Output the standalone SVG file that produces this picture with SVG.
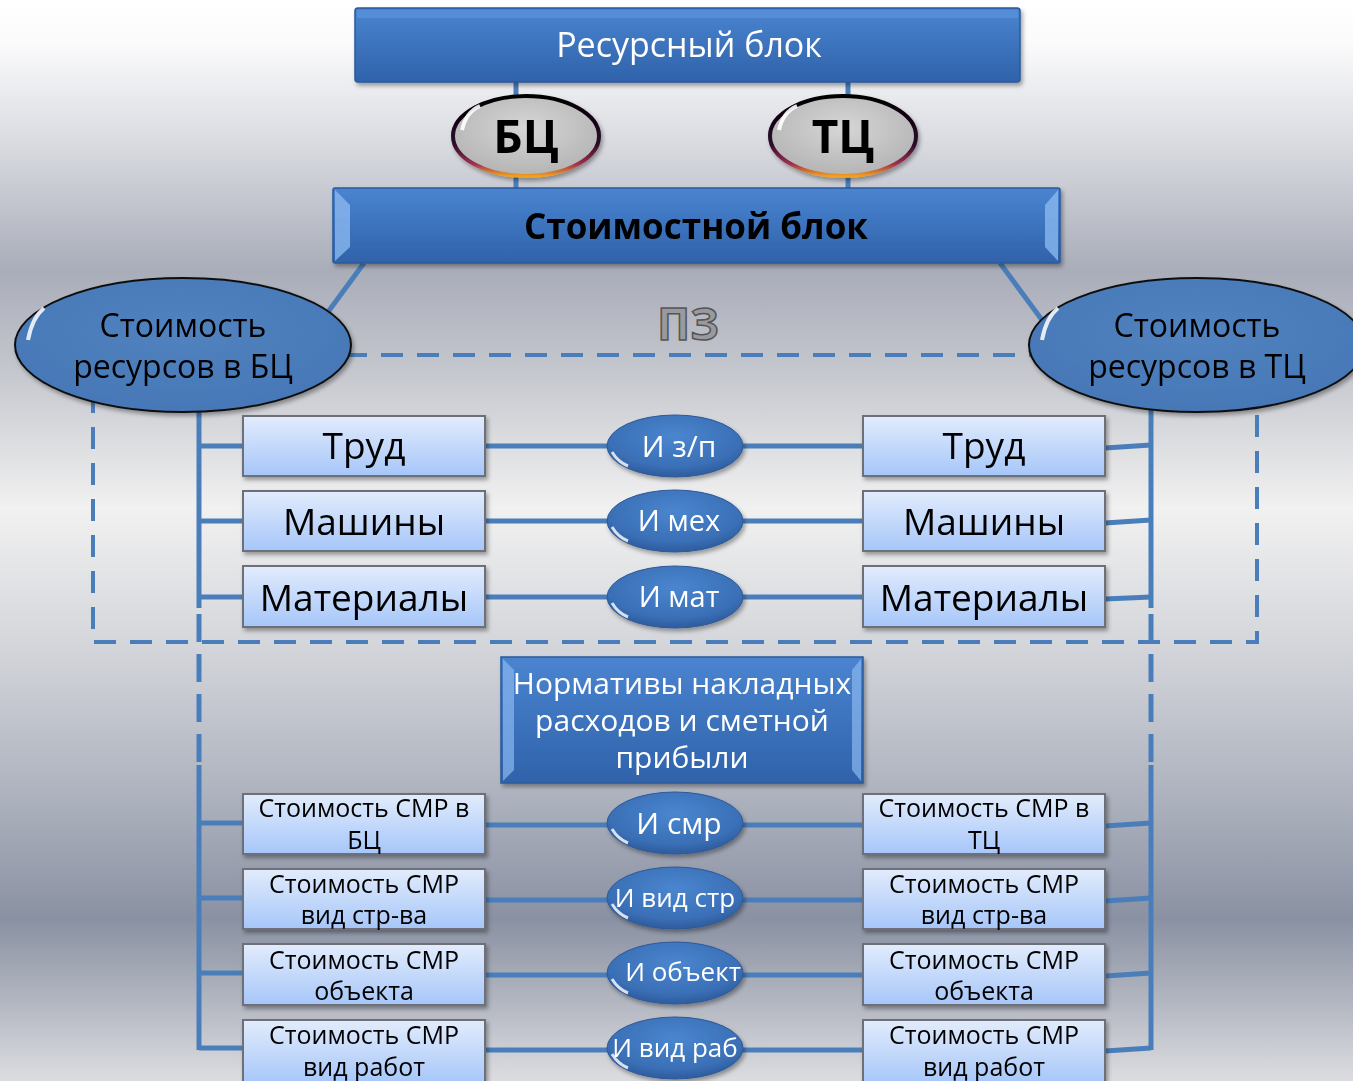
<svg xmlns="http://www.w3.org/2000/svg" width="1353" height="1081" viewBox="0 0 1353 1081">
<defs>
<linearGradient id="bg" x1="0" y1="0" x2="0" y2="1">
<stop offset="0" stop-color="#ffffff"/>
<stop offset="0.04" stop-color="#fbfbfc"/>
<stop offset="0.14" stop-color="#d6d8de"/>
<stop offset="0.25" stop-color="#a9adb9"/>
<stop offset="0.34" stop-color="#c4c6cd"/>
<stop offset="0.47" stop-color="#f1f1f1"/>
<stop offset="0.6" stop-color="#d3d5da"/>
<stop offset="0.74" stop-color="#acb1bd"/>
<stop offset="0.85" stop-color="#8a91a2"/>
<stop offset="0.93" stop-color="#b4b8c2"/>
<stop offset="1" stop-color="#dcdde0"/>
</linearGradient>
<linearGradient id="blue" x1="0" y1="0" x2="0" y2="1">
<stop offset="0" stop-color="#4a84d0"/>
<stop offset="1" stop-color="#2f62aa"/>
</linearGradient>
<linearGradient id="lb" x1="0" y1="0" x2="0" y2="1">
<stop offset="0" stop-color="#e2ecfc"/>
<stop offset="1" stop-color="#a6c6f9"/>
</linearGradient>
<radialGradient id="oval" cx="0.5" cy="0.35" r="0.7">
<stop offset="0" stop-color="#4a86cf"/>
<stop offset="0.7" stop-color="#3a6fb6"/>
<stop offset="1" stop-color="#2a5594"/>
</radialGradient>
<radialGradient id="bigoval" cx="0.5" cy="0.4" r="0.6">
<stop offset="0" stop-color="#5283c0"/>
<stop offset="1" stop-color="#4677b6"/>
</radialGradient>
<radialGradient id="gray" cx="0.5" cy="0.4" r="0.6">
<stop offset="0" stop-color="#d6d6d6"/>
<stop offset="1" stop-color="#b4b4b4"/>
</radialGradient>
<linearGradient id="ring" x1="0" y1="0" x2="0" y2="1">
<stop offset="0" stop-color="#000000"/>
<stop offset="0.6" stop-color="#2a0a2a"/>
<stop offset="0.85" stop-color="#a03050"/>
<stop offset="1" stop-color="#f0a020"/>
</linearGradient>
<filter id="sh" x="-10%" y="-10%" width="120%" height="130%">
<feDropShadow dx="2" dy="3" stdDeviation="2" flood-color="#000" flood-opacity="0.35"/>
</filter>
</defs>
<style>
.ln{stroke:#4a7ebb;stroke-width:5;fill:none}
.dash{stroke:#4a7ebb;stroke-width:4;fill:none;stroke-dasharray:22 14}
.bb{fill:url(#blue);stroke:#2a5a9c;stroke-width:1.5}
.lbx{fill:url(#lb);stroke:#6d6f78;stroke-width:2}
.ov{fill:url(#oval);stroke:#2d5a98;stroke-width:1}
.big{fill:url(#bigoval);stroke:#111;stroke-width:2}
.t{font-family:"Open Sans","Noto Sans",sans-serif;text-anchor:middle}
.w{fill:#ffffff}
.k{fill:#000000}
.s{font-size:25px}
.m{font-size:37px}
</style>
<rect x="0" y="0" width="1353" height="1081" fill="url(#bg)"/>

<g id="connectors">
<line class="ln" x1="516" y1="80" x2="516" y2="190"/>
<line class="ln" x1="848" y1="80" x2="848" y2="190"/>
<line class="ln" x1="364" y1="263" x2="328" y2="312"/>
<line class="ln" x1="1000" y1="263" x2="1042" y2="320"/>
<rect class="dash" x="93" y="355" width="1164" height="287"/>
<path class="ln" d="M199 410 V608 M199 765 V1050"/>
<path class="ln" d="M1151 410 V608 M1151 765 V1050"/>
<path class="ln" style="stroke-dasharray:28 12" d="M199 614 V762 M1151 614 V762"/>
<path class="ln" d="M199 446 H243 M199 521 H243 M199 597 H243"/>
<path class="ln" d="M1105 448 L1151 445 M1105 523 L1151 520 M1105 599 L1151 597"/>
<path class="ln" d="M485 446 H863 M485 521 H863 M485 597 H863"/>
<path class="ln" d="M199 823 H243 M199 898 H243 M199 973 H243 M199 1048 H243"/>
<path class="ln" d="M1105 826 L1151 823 M1105 901 L1151 898 M1105 976 L1151 973 M1105 1051 L1151 1048"/>
<path class="ln" d="M485 825 H863 M485 900 H863 M485 975 H863 M485 1050 H863"/>
</g>

<g id="resource-block" filter="url(#sh)">
<rect class="bb" x="355" y="8" width="665" height="74" rx="3"/>
<rect x="357" y="10" width="661" height="8" fill="#5d96dd" opacity="0.6"/>
<text class="t w" x="689" y="57" font-size="34">Ресурсный блок</text>
</g>

<g id="bc" filter="url(#sh)">
<ellipse cx="526" cy="136" rx="73" ry="40" fill="url(#gray)" stroke="url(#ring)" stroke-width="4"/>
<path d="M462 130 Q466 112 480 106" stroke="#fff" stroke-width="4" fill="none" opacity="0.9"/>
<text class="t k" x="526" y="153" font-size="46" font-weight="bold">БЦ</text>
</g>
<g id="tc" filter="url(#sh)">
<ellipse cx="843" cy="136" rx="73" ry="40" fill="url(#gray)" stroke="url(#ring)" stroke-width="4"/>
<path d="M779 130 Q783 112 797 106" stroke="#fff" stroke-width="4" fill="none" opacity="0.9"/>
<text class="t k" x="843" y="153" font-size="46" font-weight="bold">ТЦ</text>
</g>

<g id="cost-block" filter="url(#sh)">
<rect class="bb" x="333" y="188" width="727" height="75" rx="2"/>
<polygon points="335,190 350,205 350,247 335,261" fill="#8ab8ef" opacity="0.8"/>
<polygon points="1058,190 1045,205 1045,247 1058,261" fill="#8ab8ef" opacity="0.8"/>
<text class="t k" x="696" y="239" font-size="35" font-weight="bold">Стоимостной блок</text>
</g>

<g id="pz">
<text class="t" x="688" y="340" font-size="44" font-weight="bold" fill="#9a9a9e" stroke="#555" stroke-width="1.5">ПЗ</text>
</g>

<g id="cost-bc" filter="url(#sh)">
<ellipse class="big" cx="183" cy="345" rx="168" ry="67"/>
<path d="M28 340 Q32 318 44 308" stroke="#fff" stroke-width="4" fill="none" opacity="0.85"/>
<text class="t k" x="183" y="337" font-size="32">Стоимость</text>
<text class="t k" x="183" y="378" font-size="32">ресурсов в БЦ</text>
</g>
<g id="cost-tc" filter="url(#sh)">
<ellipse class="big" cx="1197" cy="345" rx="168" ry="67"/>
<path d="M1042 340 Q1046 318 1058 308" stroke="#fff" stroke-width="4" fill="none" opacity="0.85"/>
<text class="t k" x="1197" y="337" font-size="32">Стоимость</text>
<text class="t k" x="1197" y="378" font-size="32">ресурсов в ТЦ</text>
</g>

<g id="trud-l" filter="url(#sh)"><rect class="lbx" x="243" y="416" width="242" height="60"/><text class="t k m" x="364" y="459">Труд</text></g>
<g id="mash-l" filter="url(#sh)"><rect class="lbx" x="243" y="491" width="242" height="60"/><text class="t k m" x="364" y="535">Машины</text></g>
<g id="mat-l" filter="url(#sh)"><rect class="lbx" x="243" y="566" width="242" height="61"/><text class="t k m" x="364" y="611">Материалы</text></g>
<g id="trud-r" filter="url(#sh)"><rect class="lbx" x="863" y="416" width="242" height="60"/><text class="t k m" x="984" y="459">Труд</text></g>
<g id="mash-r" filter="url(#sh)"><rect class="lbx" x="863" y="491" width="242" height="60"/><text class="t k m" x="984" y="535">Машины</text></g>
<g id="mat-r" filter="url(#sh)"><rect class="lbx" x="863" y="566" width="242" height="61"/><text class="t k m" x="984" y="611">Материалы</text></g>

<g id="i-zp" filter="url(#sh)"><ellipse class="ov" cx="675" cy="446" rx="68" ry="31"/><path d="M612 452 Q618 462 628 466" stroke="#fff" stroke-width="3" fill="none" opacity="0.8"/><text class="t w" x="679" y="457" font-size="30">И з/п</text></g>
<g id="i-meh" filter="url(#sh)"><ellipse class="ov" cx="675" cy="521" rx="68" ry="31"/><path d="M612 527 Q618 537 628 541" stroke="#fff" stroke-width="3" fill="none" opacity="0.8"/><text class="t w" x="679" y="531" font-size="29">И мех</text></g>
<g id="i-mat" filter="url(#sh)"><ellipse class="ov" cx="675" cy="597" rx="68" ry="31"/><path d="M612 603 Q618 613 628 617" stroke="#fff" stroke-width="3" fill="none" opacity="0.8"/><text class="t w" x="679" y="607" font-size="29">И мат</text></g>

<g id="normativy" filter="url(#sh)">
<rect class="bb" x="501" y="657" width="362" height="126"/>
<polygon points="503,659 514,670 514,770 503,781" fill="#8ab8ef" opacity="0.7"/>
<polygon points="861,659 852,670 852,770 861,781" fill="#8ab8ef" opacity="0.7"/>
<text class="t w" x="682" y="694" font-size="30">Нормативы накладных</text>
<text class="t w" x="682" y="731" font-size="30">расходов и сметной</text>
<text class="t w" x="682" y="768" font-size="30">прибыли</text>
</g>

<g id="smr-bc" filter="url(#sh)"><rect class="lbx" x="243" y="794" width="242" height="60"/><text class="t k s" x="364" y="817">Стоимость СМР в</text><text class="t k s" x="364" y="849">БЦ</text></g>
<g id="smr-vs-l" filter="url(#sh)"><rect class="lbx" x="243" y="869" width="242" height="60"/><text class="t k s" x="364" y="893">Стоимость СМР</text><text class="t k s" x="364" y="924">вид стр-ва</text></g>
<g id="smr-ob-l" filter="url(#sh)"><rect class="lbx" x="243" y="944" width="242" height="61"/><text class="t k s" x="364" y="969">Стоимость СМР</text><text class="t k s" x="364" y="1000">объекта</text></g>
<g id="smr-vr-l" filter="url(#sh)"><rect class="lbx" x="243" y="1020" width="242" height="64"/><text class="t k s" x="364" y="1044">Стоимость СМР</text><text class="t k s" x="364" y="1076">вид работ</text></g>

<g id="smr-tc" filter="url(#sh)"><rect class="lbx" x="863" y="794" width="242" height="60"/><text class="t k s" x="984" y="817">Стоимость СМР в</text><text class="t k s" x="984" y="849">ТЦ</text></g>
<g id="smr-vs-r" filter="url(#sh)"><rect class="lbx" x="863" y="869" width="242" height="60"/><text class="t k s" x="984" y="893">Стоимость СМР</text><text class="t k s" x="984" y="924">вид стр-ва</text></g>
<g id="smr-ob-r" filter="url(#sh)"><rect class="lbx" x="863" y="944" width="242" height="61"/><text class="t k s" x="984" y="969">Стоимость СМР</text><text class="t k s" x="984" y="1000">объекта</text></g>
<g id="smr-vr-r" filter="url(#sh)"><rect class="lbx" x="863" y="1020" width="242" height="64"/><text class="t k s" x="984" y="1044">Стоимость СМР</text><text class="t k s" x="984" y="1076">вид работ</text></g>

<g id="i-smr" filter="url(#sh)"><ellipse class="ov" cx="675" cy="823" rx="68" ry="31"/><path d="M612 829 Q618 839 628 843" stroke="#fff" stroke-width="3" fill="none" opacity="0.8"/><text class="t w" x="679" y="834" font-size="30">И смр</text></g>
<g id="i-vs" filter="url(#sh)"><ellipse class="ov" cx="675" cy="898" rx="68" ry="31"/><path d="M612 904 Q618 914 628 918" stroke="#fff" stroke-width="3" fill="none" opacity="0.8"/><text class="t w" x="675" y="907" font-size="26">И вид стр</text></g>
<g id="i-ob" filter="url(#sh)"><ellipse class="ov" cx="675" cy="973" rx="68" ry="31"/><path d="M612 979 Q618 989 628 993" stroke="#fff" stroke-width="3" fill="none" opacity="0.8"/><text class="t w" x="683" y="981" font-size="26">И объект</text></g>
<g id="i-vr" filter="url(#sh)"><ellipse class="ov" cx="675" cy="1048" rx="68" ry="31"/><path d="M612 1054 Q618 1064 628 1068" stroke="#fff" stroke-width="3" fill="none" opacity="0.8"/><text class="t w" x="675" y="1057" font-size="26">И вид раб</text></g>
</svg>
